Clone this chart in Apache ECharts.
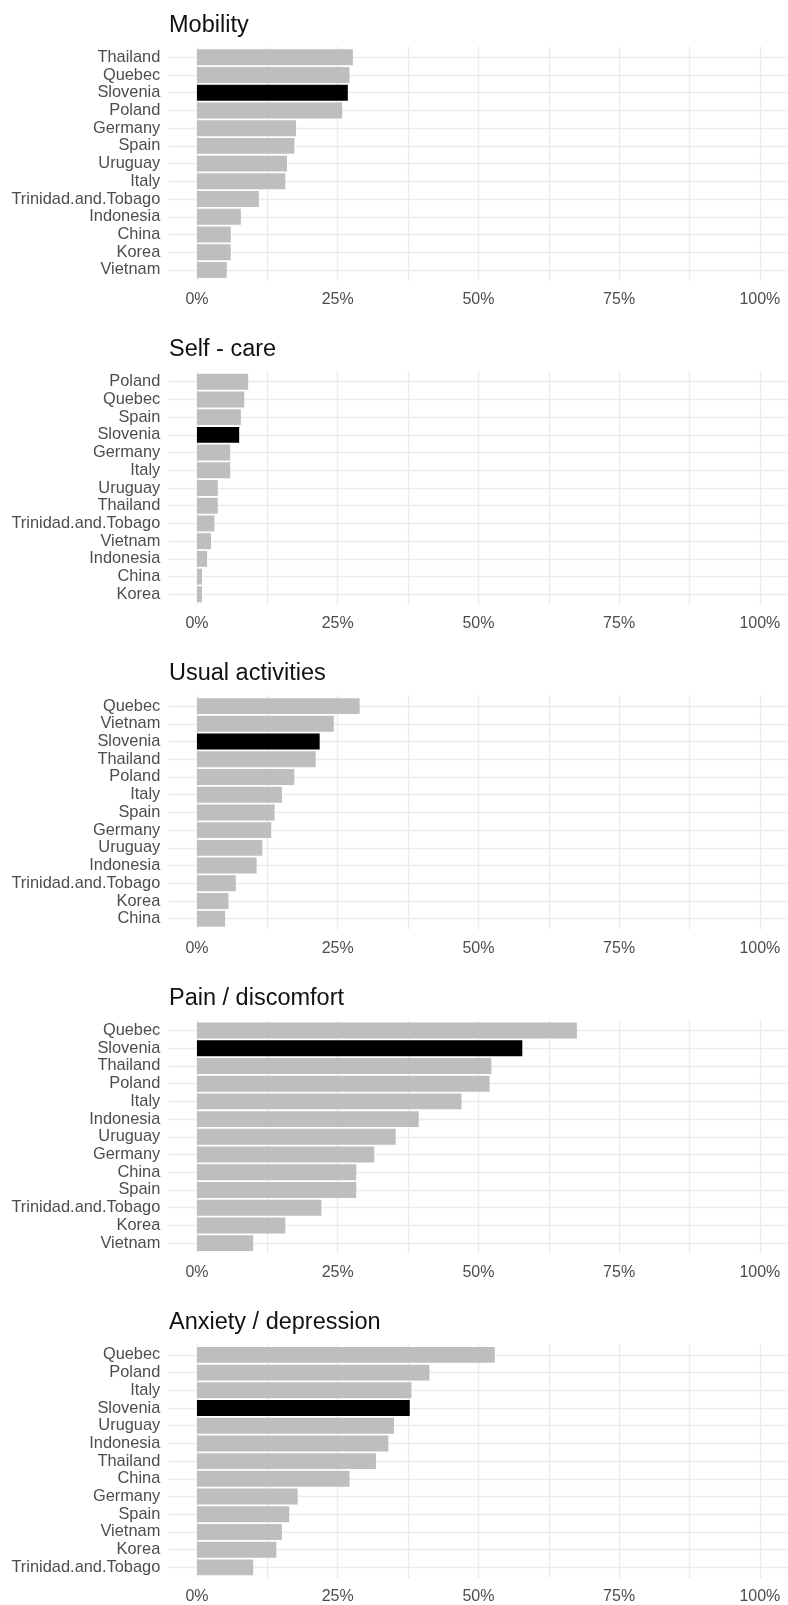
<!DOCTYPE html>
<html>
<head>
<meta charset="utf-8">
<script src="https://cdn.jsdelivr.net/npm/echarts@6/dist/echarts.min.js"></script>
<style>
  html, body { margin: 0; padding: 0; background: #ffffff; }
  #chart { width: 788px; height: 1605px; }
</style>
</head>
<body>
<div id="chart"></div>
<script>
// EQ-5D dimensions: share of respondents reporting problems, by country
const panelTitles = ['Mobility', 'Self - care', 'Usual activities', 'Pain / discomfort', 'Anxiety / depression'];

const mobilityCountries = ['Thailand', 'Quebec', 'Slovenia', 'Poland', 'Germany', 'Spain', 'Uruguay', 'Italy', 'Trinidad.and.Tobago', 'Indonesia', 'China', 'Korea', 'Vietnam'];
const mobilityValues = [0.277, 0.271, 0.268, 0.258, 0.176, 0.173, 0.160, 0.157, 0.110, 0.078, 0.060, 0.060, 0.053];

const selfCareCountries = ['Poland', 'Quebec', 'Spain', 'Slovenia', 'Germany', 'Italy', 'Uruguay', 'Thailand', 'Trinidad.and.Tobago', 'Vietnam', 'Indonesia', 'China', 'Korea'];
const selfCareValues = [0.091, 0.084, 0.078, 0.075, 0.059, 0.059, 0.037, 0.037, 0.031, 0.025, 0.018, 0.009, 0.009];

const usualCountries = ['Quebec', 'Vietnam', 'Slovenia', 'Thailand', 'Poland', 'Italy', 'Spain', 'Germany', 'Uruguay', 'Indonesia', 'Trinidad.and.Tobago', 'Korea', 'China'];
const usualValues = [0.289, 0.243, 0.218, 0.211, 0.173, 0.151, 0.138, 0.132, 0.116, 0.106, 0.069, 0.056, 0.050];

const painCountries = ['Quebec', 'Slovenia', 'Thailand', 'Poland', 'Italy', 'Indonesia', 'Uruguay', 'Germany', 'China', 'Spain', 'Trinidad.and.Tobago', 'Korea', 'Vietnam'];
const painValues = [0.675, 0.578, 0.523, 0.520, 0.470, 0.394, 0.353, 0.315, 0.283, 0.283, 0.221, 0.157, 0.100];

const anxietyCountries = ['Quebec', 'Poland', 'Italy', 'Slovenia', 'Uruguay', 'Indonesia', 'Thailand', 'China', 'Germany', 'Spain', 'Vietnam', 'Korea', 'Trinidad.and.Tobago'];
const anxietyValues = [0.529, 0.413, 0.381, 0.378, 0.350, 0.340, 0.318, 0.271, 0.179, 0.164, 0.151, 0.141, 0.100];

const xTickValues = [0, 0.25, 0.5, 0.75, 1];
const xGridValues = [0, 0.125, 0.25, 0.375, 0.5, 0.625, 0.75, 0.875, 1];
const highlightCountry = 'Slovenia';

const panelCountries = [mobilityCountries, selfCareCountries, usualCountries, painCountries, anxietyCountries];
const panelValues = [mobilityValues, selfCareValues, usualValues, painValues, anxietyValues];

// layout (pixels)
const FONT = '"Liberation Sans", Arial, sans-serif';
const firstRow = 57.3;      // centre of the first bar in the first panel
const panelStep = 324.4;    // vertical distance between panels
const band = 17.72;         // row height
const gridLeft = 168.8;     // x = -5%
const gridRight = -8.6;     // x = 105% lies just past the right edge

const grids = [], xAxes = [], yAxes = [], series = [], titles = [];

panelCountries.forEach((countries, k) => {
  const values = panelValues[k];
  const rowTop = firstRow + panelStep * k;
  const top = rowTop - 0.6 * band;
  const height = (countries.length - 1 + 1.2) * band;

  titles.push({
    text: panelTitles[k],
    left: 169,
    top: rowTop - 24.3 - 19.9,
    padding: 0,
    textStyle: { fontFamily: FONT, fontSize: 23.5, fontWeight: 'normal', color: '#111111' }
  });

  grids.push({ left: gridLeft, right: gridRight, top: top, height: height, containLabel: false });

  xAxes.push({
    type: 'value', gridIndex: k, min: -0.05, max: 1.05,
    axisLine: { show: false },
    axisTick: { show: false, customValues: xGridValues },
    axisLabel: {
      customValues: xTickValues, margin: 11,
      fontFamily: FONT, fontSize: 16, color: '#4d4d4d',
      formatter: v => Math.round(v * 100) + '%'
    },
    splitLine: { show: true, lineStyle: { color: '#ebebeb', width: 1.4 } }
  });

  const rowIdx = countries.map((_, i) => i);
  yAxes.push({
    type: 'value', gridIndex: k, inverse: true, min: -0.6, max: countries.length - 1 + 0.6,
    axisLine: { show: false },
    axisTick: { show: false, customValues: rowIdx },
    axisLabel: {
      customValues: rowIdx, margin: 8.5,
      fontFamily: FONT, fontSize: 16.4, color: '#4d4d4d',
      formatter: v => countries[Math.round(v)]
    },
    splitLine: { show: true, lineStyle: { color: '#ebebeb', width: 1.4 } }
  });

  series.push({
    type: 'custom', xAxisIndex: k, yAxisIndex: k,
    encode: { x: 0, y: 1 },
    data: values.map((v, i) => [v, i, countries[i] === highlightCountry ? 1 : 0]),
    renderItem: (params, api) => {
      const v = api.value(0), i = api.value(1);
      const start = api.coord([0, i]);
      const end = api.coord([v, i]);
      const h = api.size([0, 0.9])[1];
      return {
        type: 'rect',
        shape: { x: start[0], y: start[1] - h / 2, width: end[0] - start[0], height: h },
        style: { fill: api.value(2) ? '#000000' : '#bebebe' }
      };
    },
    silent: true
  });
});

const chart = echarts.init(document.getElementById('chart'), null, { renderer: 'canvas' });
chart.setOption({
  animation: false,
  backgroundColor: '#ffffff',
  title: titles,
  grid: grids,
  xAxis: xAxes,
  yAxis: yAxes,
  series: series
});
</script>
</body>
</html>
